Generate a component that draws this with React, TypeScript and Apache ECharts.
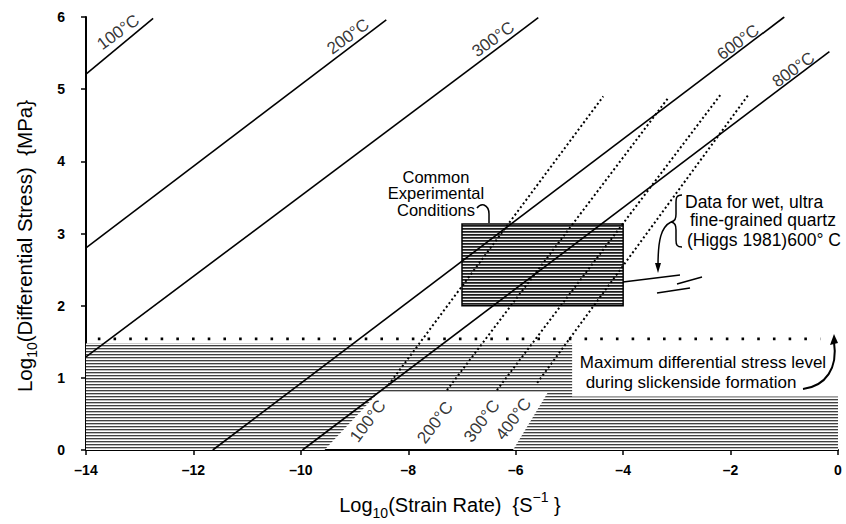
import React, { useEffect, useRef } from 'react';
import * as echarts from 'echarts';

const FONT = '"Liberation Sans", Arial, Helvetica, sans-serif';

// Solid iso-temperature lines (upper labels)
const solidTemps = ['100°C', '200°C', '300°C', '600°C', '800°C'];
const solidStartX = [-14, -14, -14, -11.64, -9.97];
const solidStartY = [5.21, 2.8, 1.29, 0, 0];
const solidEndX = [-12.75, -8.41, -5.58, -1.0, -0.16];
const solidEndY = [5.98, 5.96, 5.99, 6.0, 5.52];
const solidLabelX = [-13.4, -9.12, -6.42, -1.86, -0.83];
const solidLabelY = [5.79, 5.73, 5.69, 5.65, 5.27];

// Dotted lines (lower labels)
const dottedTemps = ['100°C', '200°C', '300°C', '400°C'];
const dottedStartX = [-8.37, -7.28, -6.35, -5.6];
const dottedStartY = [0.9, 0.83, 0.83, 0.93];
const dottedEndX = [-4.37, -3.16, -2.19, -1.67];
const dottedEndY = [4.9, 4.88, 4.92, 4.92];
const dottedLabelX = [-8.75, -7.5, -6.63, -6.04];
const dottedLabelY = [0.4, 0.38, 0.4, 0.43];

// Maximum differential stress level (dotted row)
const maxStressX = [-13.78, -0.33];
const maxStressY = [1.54, 1.54];

// Hatched regions
const bandX = [-14, -9.56, -8.55, -5.4, -6.05, 0, 0, -4.95, -4.95, -14];
const bandY = [0, 0, 0.8, 0.8, 0, 0, 0.74, 0.74, 1.48, 1.48];
const boxX = [-7, -4, -4, -7];
const boxY = [2.0, 2.0, 3.13, 3.13];

echarts.graphic.registerShape(
  'brace',
  echarts.graphic.extendPath(
    'M682,195 C676,195 676,198 676,204 L676,214 C676,219 675,221 671,222 C675,223 676,225 676,230 L676,240 C676,245 677,247 682,247',
    {}
  )
);
echarts.graphic.registerShape(
  'hook',
  echarts.graphic.extendPath('M477,208 Q480,204 484,205 Q489,207 489,214 L489,223', {})
);
echarts.graphic.registerShape(
  'arrowA',
  echarts.graphic.extendPath('M671,222 C661,227 658,240 658,266', {})
);
echarts.graphic.registerShape(
  'arrowB',
  echarts.graphic.extendPath('M803,389 C826,386 838,368 834,342', {})
);

function makePattern(rows: string[], w: number) {
  const c = document.createElement('canvas');
  c.width = w;
  c.height = rows.length;
  const ctx = c.getContext('2d')!;
  rows.forEach((color, i) => {
    ctx.fillStyle = color;
    ctx.fillRect(0, i, w, 1);
  });
  return { image: c, repeat: 'repeat' };
}

export default function App() {
  const ref = useRef<HTMLDivElement>(null);
  useEffect(() => {
    if (!ref.current) return;
    const chart = echarts.init(ref.current, undefined, { renderer: 'svg' });

    const bandFill = makePattern(['#404040', '#bcbcbc', '#ffffff'], 8);
    const boxFill = makePattern(['#1c1c1c', '#555555', '#f4f4f4'], 8);

    const regions = [
      { xs: bandX, ys: bandY, fill: bandFill, stroke: null, lw: 0 },
      { xs: boxX, ys: boxY, fill: boxFill, stroke: '#000', lw: 1.5 },
    ];

    const series: any[] = [];
    series.push({
      type: 'custom',
      silent: true,
      z: 1,
      data: regions.map((r) => [r.xs[0], r.ys[0]]),
      encode: { x: 0, y: 1 },
      renderItem: (params: any, api: any) => {
        const r = regions[params.dataIndex];
        const pts = r.xs.map((x, i) => api.coord([x, r.ys[i]]));
        return {
          type: 'polygon',
          shape: { points: pts },
          style: { fill: r.fill, stroke: r.stroke || 'none', lineWidth: r.lw },
        };
      },
    });

    solidTemps.forEach((t, i) => {
      series.push({
        type: 'line',
        name: 'solid ' + t,
        silent: true,
        z: 3,
        symbol: 'none',
        data: [
          [solidStartX[i], solidStartY[i]],
          [solidEndX[i], solidEndY[i]],
        ],
        lineStyle: { color: '#000', width: 1.6 },
      });
    });

    dottedTemps.forEach((t, i) => {
      series.push({
        type: 'line',
        name: 'dotted ' + t,
        silent: true,
        z: 3,
        symbol: 'none',
        data: [
          [dottedStartX[i], dottedStartY[i]],
          [dottedEndX[i], dottedEndY[i]],
        ],
        lineStyle: { color: '#000', width: 2, type: [2, 2.6] },
      });
    });

    series.push({
      type: 'line',
      name: 'max stress',
      silent: true,
      z: 3,
      symbol: 'none',
      data: maxStressX.map((x, i) => [x, maxStressY[i]]),
      lineStyle: { color: '#000', width: 2.6, type: [2.6, 13.1] },
    });

    series.push({
      type: 'scatter',
      silent: true,
      z: 4,
      symbolSize: 1,
      itemStyle: { color: 'rgba(0,0,0,0)' },
      data: solidTemps.map((t, i) => ({ name: t, value: [solidLabelX[i], solidLabelY[i]] })),
      label: {
        show: true,
        position: 'inside',
        formatter: '{b}',
        rotate: 36,
        fontSize: 17,
        color: '#000',
        fontFamily: FONT,
      },
    });
    series.push({
      type: 'scatter',
      silent: true,
      z: 4,
      symbolSize: 1,
      itemStyle: { color: 'rgba(0,0,0,0)' },
      data: dottedTemps.map((t, i) => ({ name: t, value: [dottedLabelX[i], dottedLabelY[i]] })),
      label: {
        show: true,
        position: 'inside',
        formatter: '{b}',
        rotate: 53,
        fontSize: 17,
        color: '#000',
        fontFamily: FONT,
      },
    });

    const txt = (x: number, y: number, text: string, extra: any = {}) => ({
      type: 'text',
      x,
      y,
      z: 10,
      style: {
        text,
        fontFamily: FONT,
        fontSize: 16.5,
        fill: '#000',
        align: 'center',
        verticalAlign: 'middle',
        ...extra,
      },
    });

    const stroke = { stroke: '#000', fill: 'none', lineWidth: 1.5 };

    const option: any = {
      animation: false,
      backgroundColor: '#ffffff',
      textStyle: { fontFamily: FONT },
      grid: { left: 86, right: 8, top: 17, bottom: 74, containLabel: false, outerBoundsMode: 'none' },
      xAxis: {
        type: 'value',
        min: -14,
        max: 0,
        interval: 2,
        splitLine: { show: false },
        axisLine: { show: true, onZero: false, lineStyle: { color: '#000', width: 2 } },
        axisTick: { show: true, length: 5, lineStyle: { color: '#000', width: 1.5 } },
        axisLabel: {
          color: '#000',
          fontSize: 14,
          fontWeight: 'bold',
          fontFamily: FONT,
          margin: 13,
          formatter: (v: number) => (v < 0 ? '\u2013' + Math.abs(v) : String(v)),
        },
      },
      yAxis: {
        type: 'value',
        min: 0,
        max: 6,
        interval: 1,
        splitLine: { show: false },
        axisLine: { show: true, onZero: false, lineStyle: { color: '#000', width: 2 } },
        axisTick: { show: true, length: 5, lineStyle: { color: '#000', width: 1.5 } },
        axisLabel: { color: '#000', fontSize: 14, fontWeight: 'bold', fontFamily: FONT, margin: 21 },
      },
      series,
      graphic: [
        {
          type: 'text',
          x: 450,
          y: 505,
          z: 10,
          style: {
            text: '{n|Log}{s|10}{n|(Strain Rate)  }{n|{S}{p|\u22121} }',
            fontFamily: FONT,
            fontSize: 20,
            lineHeight: 30,
            fill: '#000',
            align: 'center',
            verticalAlign: 'middle',
            rich: {
              n: { fontSize: 20, lineHeight: 30, verticalAlign: 'middle', fontFamily: FONT, fill: '#000' },
              s: { fontSize: 14, lineHeight: 13, verticalAlign: 'bottom', fontFamily: FONT, fill: '#000' },
              p: { fontSize: 14, lineHeight: 18, verticalAlign: 'top', fontFamily: FONT, fill: '#000' },
            },
          },
        },
        {
          type: 'text',
          x: 24,
          y: 246,
          rotation: Math.PI / 2,
          z: 10,
          style: {
            text: '{n|Log}{s|10}{n|(Differential Stress)  {MPa}}',
            fontFamily: FONT,
            fontSize: 20.5,
            lineHeight: 30,
            fill: '#000',
            align: 'center',
            verticalAlign: 'middle',
            rich: {
              n: { fontSize: 20.5, lineHeight: 30, verticalAlign: 'middle', fontFamily: FONT, fill: '#000' },
              s: { fontSize: 14, lineHeight: 12, verticalAlign: 'bottom', fontFamily: FONT, fill: '#000' },
            },
          },
        },
        txt(436, 193, 'Common\nExperimental\nConditions', { lineHeight: 16.5 }),
        { type: 'hook', z: 10, style: stroke },
        txt(685, 202, 'Data for wet, ultra', { align: 'left', fontSize: 17.5 }),
        txt(690, 220, 'fine-grained quartz', { align: 'left', fontSize: 17.5 }),
        txt(687, 240, '(Higgs 1981)600° C', { align: 'left', fontSize: 17.5 }),
        { type: 'brace', z: 10, style: stroke },
        { type: 'arrowA', z: 10, style: stroke },
        {
          type: 'polygon',
          z: 10,
          shape: { points: [[655, 263], [661, 263], [658, 273]] },
          style: { fill: '#000' },
        },
        { type: 'line', z: 10, shape: { x1: 623, y1: 282, x2: 680, y2: 275 }, style: stroke },
        { type: 'line', z: 10, shape: { x1: 677, y1: 284, x2: 702, y2: 277 }, style: stroke },
        { type: 'line', z: 10, shape: { x1: 657, y1: 293, x2: 690, y2: 288 }, style: stroke },
        txt(703, 362, 'Maximum differential stress level', { fontSize: 17 }),
        txt(691, 382, 'during slickenside formation', { fontSize: 17 }),
        { type: 'arrowB', z: 10, style: { stroke: '#000', fill: 'none', lineWidth: 2 } },
        {
          type: 'polygon',
          z: 10,
          shape: { points: [[830, 345], [838, 343], [834, 334]] },
          style: { fill: '#000' },
        },
      ],
    };

    chart.setOption(option);
    return () => chart.dispose();
  }, []);

  return (
    <div
      ref={ref}
      style={{ position: 'fixed', left: 0, top: 0, width: 846, height: 524, background: '#fff' }}
    />
  );
}
